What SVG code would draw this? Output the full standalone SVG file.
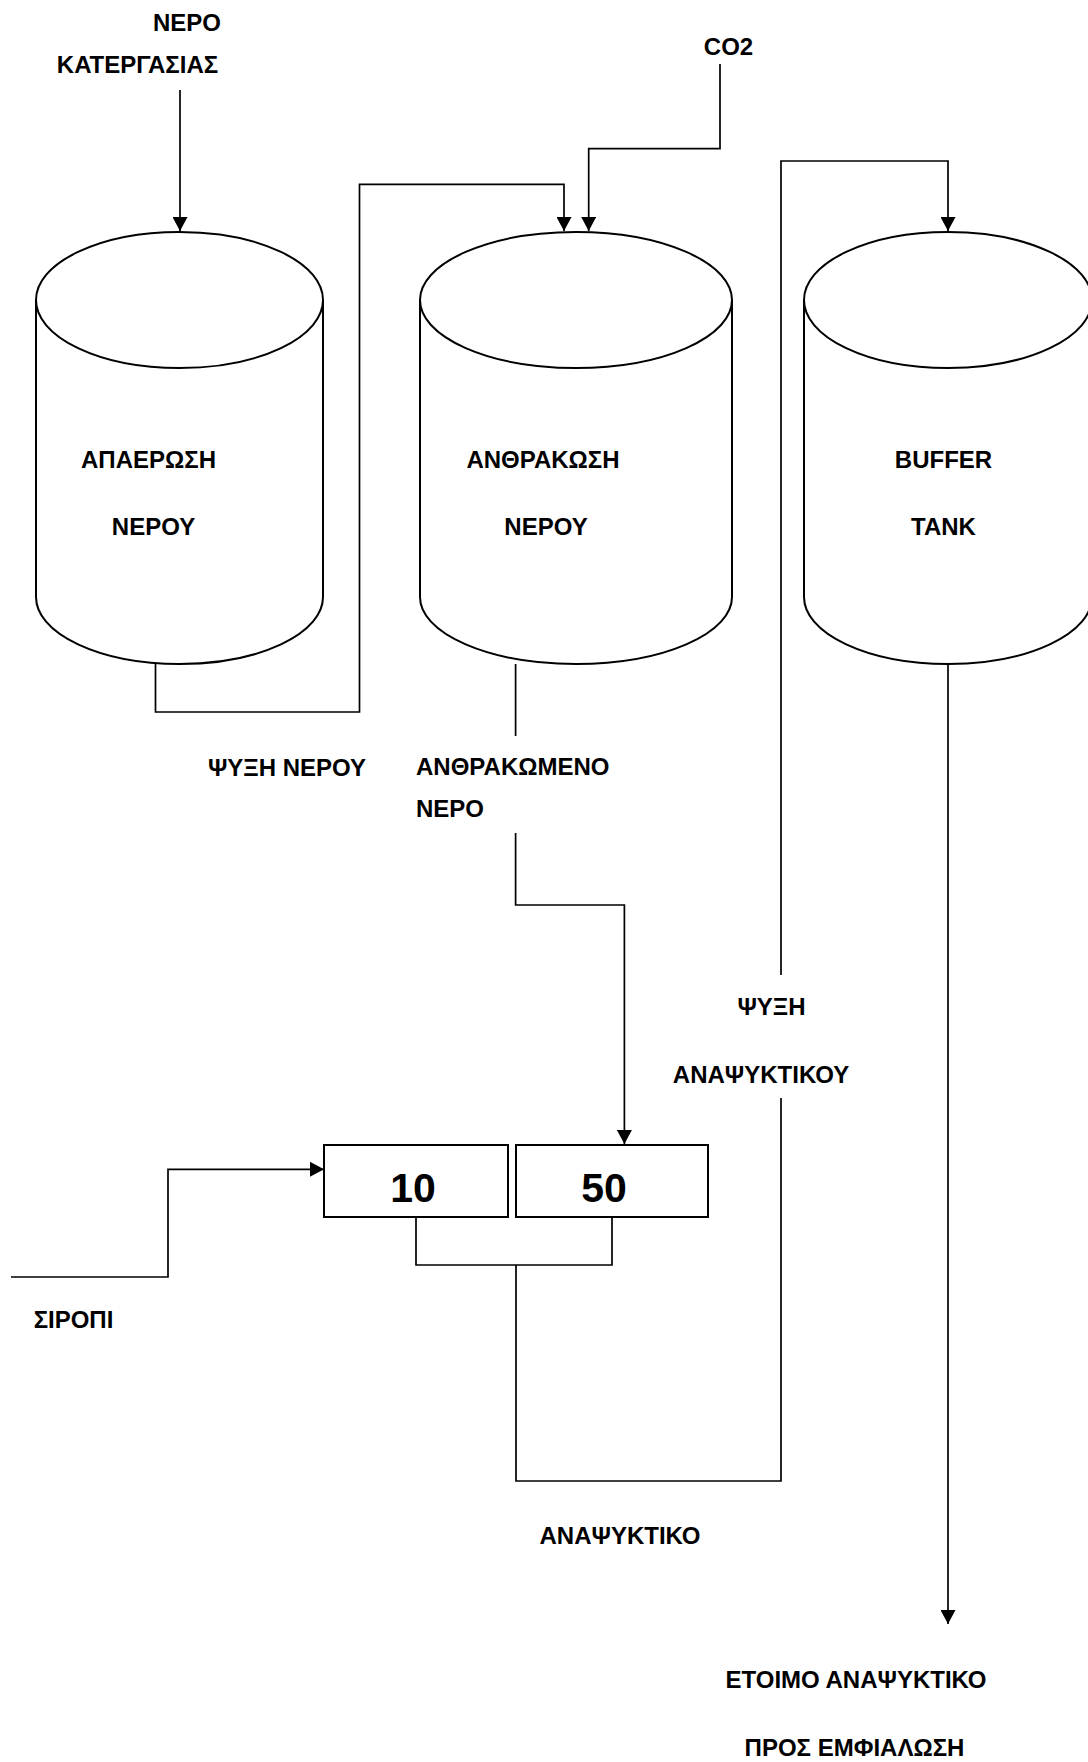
<svg xmlns="http://www.w3.org/2000/svg" width="1088" height="1762" viewBox="0 0 1088 1762">
<style>
.t{font-family:"Liberation Sans",Arial,sans-serif;font-weight:bold;font-size:24px;fill:#000}
.m{text-anchor:middle}
.big{font-size:41px}
.tank{fill:#fff;stroke:#000;stroke-width:2}
.box{fill:#fff;stroke:#000;stroke-width:2}
.c{fill:none;stroke:#000;stroke-width:1.7}
</style>
<defs>
<marker id="ah" viewBox="0 0 14 15" refX="14" refY="7.5" markerWidth="14" markerHeight="15" markerUnits="userSpaceOnUse" orient="auto">
<path d="M0,0 L14,7.5 L0,15 z" fill="#000"/>
</marker>
</defs>
<rect width="1088" height="1762" fill="#fff"/>

<g id="connectors">
<path class="c" d="M180,90 V231" marker-end="url(#ah)"/>
<path class="c" d="M155.5,664 V712 H359.5 V184.3 H564 V231" marker-end="url(#ah)"/>
<path class="c" d="M720,64 V148.7 H588.7 V231" marker-end="url(#ah)"/>
<path class="c" d="M515.6,664 V736"/>
<path class="c" d="M515.6,833 V905 H624.4 V1144" marker-end="url(#ah)"/>
<path class="c" d="M11,1277 H168 V1169.3 H324" marker-end="url(#ah)"/>
<path class="c" d="M416,1217 V1265 H612 V1217"/>
<path class="c" d="M516,1265 V1481 H781 V1098"/>
<path class="c" d="M781,975 V161 H948 V231" marker-end="url(#ah)"/>
<path class="c" d="M948,664 V1624" marker-end="url(#ah)"/>
</g>

<g id="tank-apaerosi">
<path class="tank" d="M36,300 V597 A143.5,67 0 0 0 323,597 V300"/>
<ellipse class="tank" cx="179.5" cy="300" rx="143.5" ry="68"/>
<text class="t m" x="148.5" y="468">ΑΠΑΕΡΩΣΗ</text>
<text class="t m" x="153.5" y="535">ΝΕΡΟΥ</text>
</g>

<g id="tank-anthrakosi">
<path class="tank" d="M420,300 V597 A156,67 0 0 0 732,597 V300"/>
<ellipse class="tank" cx="576" cy="300" rx="156" ry="68"/>
<text class="t m" x="543" y="468">ΑΝΘΡΑΚΩΣΗ</text>
<text class="t m" x="546" y="535">ΝΕΡΟΥ</text>
</g>

<g id="tank-buffer">
<path class="tank" d="M804,300 V597 A144,67 0 0 0 1092,597 V300"/>
<ellipse class="tank" cx="948" cy="300" rx="144" ry="68"/>
<text class="t m" x="943.5" y="468">BUFFER</text>
<text class="t m" x="943.5" y="535">TANK</text>
</g>

<g id="box-10">
<rect class="box" x="324" y="1145" width="184" height="72"/>
<text class="t m big" x="413" y="1202">10</text>
</g>
<g id="box-50">
<rect class="box" x="516" y="1145" width="192" height="72"/>
<text class="t m big" x="604" y="1202">50</text>
</g>

<g id="labels">
<text class="t m" x="187" y="31">ΝΕΡΟ</text>
<text class="t m" x="137.5" y="73">ΚΑΤΕΡΓΑΣΙΑΣ</text>
<text class="t m" x="728.5" y="55">CO2</text>
<text class="t m" x="287" y="776">ΨΥΞΗ ΝΕΡΟΥ</text>
<text class="t" x="416" y="775">ΑΝΘΡΑΚΩΜΕΝΟ</text>
<text class="t" x="416" y="817">ΝΕΡΟ</text>
<text class="t m" x="771.5" y="1015">ΨΥΞΗ</text>
<text class="t m" x="761" y="1083">ΑΝΑΨΥΚΤΙΚΟΥ</text>
<text class="t m" x="73.5" y="1328">ΣΙΡΟΠΙ</text>
<text class="t m" x="620" y="1544">ΑΝΑΨΥΚΤΙΚΟ</text>
<text class="t m" x="856" y="1688">ΕΤΟΙΜΟ ΑΝΑΨΥΚΤΙΚΟ</text>
<text class="t m" x="854.5" y="1756">ΠΡΟΣ ΕΜΦΙΑΛΩΣΗ</text>
</g>
</svg>
